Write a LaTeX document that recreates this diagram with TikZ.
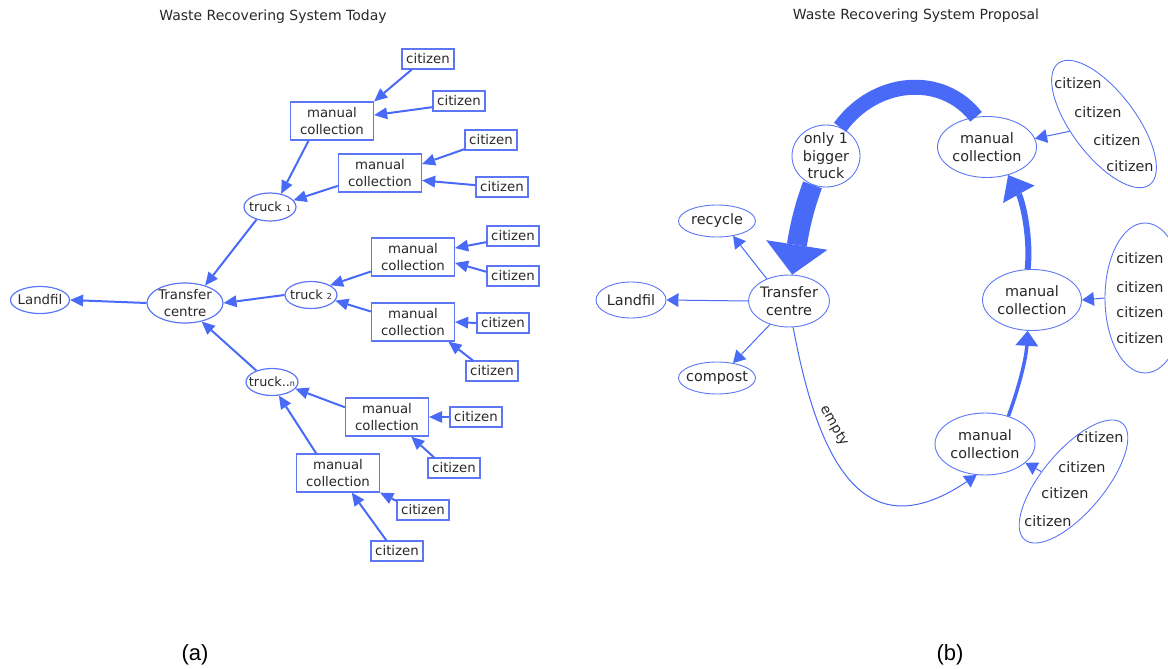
\documentclass[tikz,border=0pt]{standalone}
\usepackage{fontspec}
\setmainfont{DejaVu Sans}
\newfontfamily\labfont{Liberation Sans}
\usetikzlibrary{arrows.meta,shapes.geometric}
\definecolor{lb}{RGB}{72,106,246}
\definecolor{nb}{RGB}{92,118,246}
\definecolor{tx}{RGB}{40,40,40}
\begin{document}
\begin{tikzpicture}[x=1pt,y=-1pt,
  every node/.style={text=tx},
  lfont/.style={font=\fontsize{13.3}{17.5}\selectfont},
  rfont/.style={font=\fontsize{14.4}{17.5}\selectfont},
  tfont/.style={font=\fontsize{14}{16}\selectfont},
  cbox/.style={draw=nb, line width=1.3pt, rectangle, inner sep=0pt, minimum width=52pt, minimum height=20pt, lfont},
  mbox/.style={draw=nb, line width=1.3pt, rectangle, inner sep=0pt, minimum width=83pt, minimum height=38pt, align=center, lfont},
  lell/.style={draw=nb, line width=1.2pt, ellipse, inner sep=-8pt, lfont, align=center},
  rell/.style={draw=nb, line width=0.9pt, ellipse, inner sep=-8pt, rfont, align=center},
  ctext/.style={inner sep=0pt, rfont},
  larr/.style={draw=lb, line width=2pt, -{Triangle[length=13pt,width=12pt,line width=0pt]}},
  rarr/.style={draw=lb, line width=1pt, -{Triangle[length=12pt,width=14pt,line width=0pt]}},
  bigarr/.style={draw=lb, line width=20pt, -{Triangle[length=30pt,width=62pt,line width=0pt]}},
  midarr/.style={draw=lb, line width=6pt, -{Triangle[length=22pt,width=36pt,line width=0pt]}},
  smarr/.style={draw=lb, line width=3.5pt, -{Triangle[length=15pt,width=23pt,line width=0pt]}},
]
\useasboundingbox (0,0) rectangle (1168,669);
\begin{scope}
\clip (0,0) rectangle (1168,669);

% titles and captions
\node[tfont] (t1) at (273,17) {Waste Recovering System Today};
\node[tfont] (t2) at (916,16) {Waste Recovering System Proposal};
\node[font=\labfont\fontsize{22}{24}\selectfont, text=black] (capa) at (195,655) {(a)};
\node[font=\labfont\fontsize{22}{24}\selectfont, text=black] (capb) at (950,655) {(b)};

% ---------- left diagram ----------
\node[lell, minimum width=59pt, minimum height=27pt] (lland) at (40,300) {Landfil};
\node[lell, minimum width=76pt, minimum height=40pt] (ltc) at (185,303) {Transfer\\centre};
\node[lell, minimum width=52pt, minimum height=28pt, font=\fontsize{12.8}{14}\selectfont] (tr1) at (270,207) {truck {\fontsize{8}{8}\selectfont 1}};
\node[lell, minimum width=52pt, minimum height=27pt, font=\fontsize{12.8}{14}\selectfont] (tr2) at (311,295) {truck {\fontsize{8}{8}\selectfont 2}};
\node[lell, minimum width=52pt, minimum height=27pt, font=\fontsize{12.8}{14}\selectfont] (trn) at (272,382) {truck..{\fontsize{8}{8}\selectfont n}};

\node[mbox] (mc1) at (332,121) {manual\\collection};
\node[mbox] (mc2) at (380,173) {manual\\collection};
\node[mbox] (mc3) at (413,257) {manual\\collection};
\node[mbox] (mc4) at (413,322) {manual\\collection};
\node[mbox] (mc5) at (387,417) {manual\\collection};
\node[mbox] (mc6) at (338,473) {manual\\collection};

\node[cbox] (c1) at (428,59) {citizen};
\node[cbox] (c2) at (459,101) {citizen};
\node[cbox] (c3) at (491,140) {citizen};
\node[cbox] (c4) at (502,187) {citizen};
\node[cbox] (c5) at (513,236) {citizen};
\node[cbox] (c6) at (513,276) {citizen};
\node[cbox] (c7) at (503,323) {citizen};
\node[cbox] (c8) at (492,371) {citizen};
\node[cbox] (c9) at (476,417) {citizen};
\node[cbox] (c10) at (454,468) {citizen};
\node[cbox] (c11) at (423,510) {citizen};
\node[cbox] (c12) at (397,551) {citizen};

\draw[larr] (c1.213) -- (mc1.north east);
\draw[larr] (c2.193) -- (mc1.8);
\draw[larr] (c3.199) -- (mc2.12);
\draw[larr] (c4.176) -- (mc2.350);
\draw[larr] (c5.193) -- (mc3.12);
\draw[larr] (c6.171) -- (mc3.352);
\draw[larr] (c7.west) -- (mc4.east);
\draw[larr] (c8.151) -- (mc4.331);
\draw[larr] (c9.west) -- (mc5.east);
\draw[larr] (c10.152) -- (mc5.321);
\draw[larr] (c11.161) -- (mc6.335);
\draw[larr] (c12.135) -- (mc6.305);
\draw[larr] (mc1.220) -- (tr1.50);
\draw[larr] (mc2.197) -- (tr1.16);
\draw[larr] (mc3.199) -- (tr2.27);
\draw[larr] (mc4.166) -- (tr2.347);
\draw[larr] (mc5.167) -- (trn.344);
\draw[larr] (mc6.138) -- (trn.297);
\draw[larr] (tr1.223) -- (ltc.41);
\draw[larr] (tr2.west) -- (ltc.east);
\draw[larr] (trn.144) -- (ltc.312);
\draw[larr] (ltc.west) -- (lland.east);

% ---------- right diagram ----------
\node[rell, minimum width=70pt, minimum height=36pt] (rland) at (631,300) {Landfil};
\node[rell, minimum width=77pt, minimum height=32pt] (rrec) at (717,221) {recycle};
\node[rell, minimum width=77pt, minimum height=32pt] (rcomp) at (717,378) {compost};
\node[rell, minimum width=81pt, minimum height=52pt] (rtc) at (789,301) {Transfer\\centre};
\node[rell, minimum width=68pt, minimum height=62pt] (trk) at (826,156) {only 1\\bigger\\truck};
\node[rell, minimum width=99pt, minimum height=61pt] (mcT) at (987,147) {manual\\collection};
\node[rell, minimum width=99pt, minimum height=61pt] (mcM) at (1032,300) {manual\\collection};
\node[rell, minimum width=100pt, minimum height=62pt] (mcB) at (985,444) {manual\\collection};

\node[draw=nb, line width=0.9pt, ellipse, inner sep=0pt, minimum width=152pt, minimum height=64pt, rotate=-53] (citT) at (1104,124) {};
\node[draw=nb, line width=0.9pt, ellipse, inner sep=0pt, minimum width=80pt, minimum height=150pt] (citM) at (1145,298) {};
\node[draw=nb, line width=0.9pt, ellipse, inner sep=0pt, minimum width=152pt, minimum height=62pt, rotate=50] (citB) at (1073.5,481.5) {};

\node[ctext] (tT1) at (1078,83) {citizen};
\node[ctext] (tT2) at (1098,112) {citizen};
\node[ctext] (tT3) at (1117,140) {citizen};
\node[ctext] (tT4) at (1130,166) {citizen};
\node[ctext] (tM1) at (1140,258) {citizen};
\node[ctext] (tM2) at (1140,287) {citizen};
\node[ctext] (tM3) at (1140,312) {citizen};
\node[ctext] (tM4) at (1140,338) {citizen};
\node[ctext] (tB1) at (1100,437) {citizen};
\node[ctext] (tB2) at (1082,467) {citizen};
\node[ctext] (tB3) at (1065,493) {citizen};
\node[ctext] (tB4) at (1048,521) {citizen};

\node[inner sep=0pt, font=\fontsize{13.7}{15}\selectfont, rotate=-60.5] (emp) at (834,426) {empty};

\draw[rarr] (rtc.135) -- (rrec.317);
\draw[rarr] (rtc.west) -- (rland.east);
\draw[rarr] (rtc.231) -- (rcomp.43);
\draw[rarr] (rtc.279) .. controls (822,484) and (874,544) .. (mcB.255);
\draw[lb, line width=15pt] (mcT.110) .. controls (942,73) and (875,79) .. (trk.64);
\draw[bigarr] (trk.245) .. controls (805,205) and (800,225) .. (rtc.83);
\draw[midarr] (mcM.98) .. controls (1031,235) and (1022,200) .. (mcT.307);
\draw[smarr] (mcB.50) .. controls (1018,390) and (1026,360) .. (mcM.262);
\draw[rarr] (citT.245) -- (mcT.10);
\draw[rarr] (citM.west) -- (mcM.east);
\draw[rarr] (citB.113) -- (mcB.335);
\end{scope}
\end{tikzpicture}
\end{document}
